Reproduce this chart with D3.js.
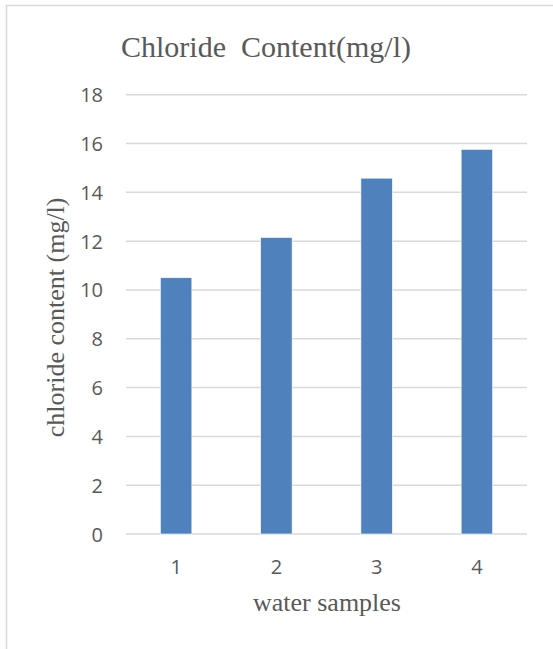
<!DOCTYPE html>
<html>
<head>
<meta charset="utf-8">
<script src="https://cdn.jsdelivr.net/npm/d3@7/dist/d3.min.js"></script>
<style>
  html, body { margin: 0; padding: 0; background: #fff; }
  svg { display: block; }
</style>
</head>
<body>
<script>
// Chart data
const samples = ["1", "2", "3", "4"];
const chloride = [10.5, 12.15, 14.58, 15.76];
const yTicks = [0, 2, 4, 6, 8, 10, 12, 14, 16, 18];
const titleText = "Chloride\u00a0 Content(mg/l)";
const xTitle = "water samples";
const yTitle = "chloride content (mg/l)";

const W = 553, H = 649;
const svg = d3.select("body").append("svg").attr("width", W).attr("height", H);

// Outer chart frame (extends past the right and bottom edges)
svg.append("rect")
  .attr("x", 6.5).attr("y", 5.5)
  .attr("width", 560).attr("height", 660)
  .attr("fill", "#fff").attr("stroke", "#d9d9d9").attr("stroke-width", 1.5);

const plot = { left: 126, right: 527, top: 94.7, bottom: 534 };

const x = d3.scaleBand().domain(samples)
  .range([plot.left, plot.right])
  .paddingInner(0.686).paddingOuter(0.343);
const y = d3.scaleLinear().domain([0, 18]).range([plot.bottom, plot.top]);

// Horizontal gridlines
svg.append("g").selectAll("line").data(yTicks).join("line")
  .attr("x1", plot.left).attr("x2", plot.right)
  .attr("y1", d => y(d)).attr("y2", d => y(d))
  .attr("stroke", "#d9d9d9").attr("stroke-width", 1.5);

// Y axis tick labels
const yAxis = d3.axisLeft(y).tickValues(yTicks).tickSize(0).tickPadding(0);
const gy = svg.append("g").attr("transform", `translate(${plot.left - 23},0)`).call(yAxis);
gy.select(".domain").remove();
gy.selectAll("text")
  .attr("font-family", "'Open Sans', sans-serif").attr("font-size", 20)
  .attr("fill", "#595959").attr("dy", "0.35em");

// Bars
svg.append("g").selectAll("rect").data(chloride).join("rect")
  .attr("x", (d, i) => x(samples[i]))
  .attr("width", x.bandwidth())
  .attr("y", d => y(d))
  .attr("height", d => y(0) - y(d))
  .attr("fill", "#4f81bd")
  .attr("stroke", "#fff").attr("stroke-width", 0.6);

// X axis tick labels
const xAxis = d3.axisBottom(x).tickSize(0).tickPadding(0);
const gx = svg.append("g").attr("transform", `translate(0,${plot.bottom + 33})`).call(xAxis);
gx.select(".domain").remove();
gx.selectAll("text")
  .attr("font-family", "'Open Sans', sans-serif").attr("font-size", 20)
  .attr("fill", "#595959").attr("dy", "0.35em");

// Title
svg.append("text")
  .attr("x", 266).attr("y", 57)
  .attr("text-anchor", "middle")
  .attr("font-family", "'Liberation Serif', 'Times New Roman', serif")
  .attr("font-size", 30).attr("fill", "#595959")
  .text(titleText);

// Axis titles
svg.append("text")
  .attr("x", 327).attr("y", 611)
  .attr("text-anchor", "middle")
  .attr("font-family", "'Liberation Serif', 'Times New Roman', serif")
  .attr("font-size", 26).attr("fill", "#595959")
  .text(xTitle);

svg.append("text")
  .attr("transform", `translate(64,${(plot.top + plot.bottom) / 2 + 3}) rotate(-90)`)
  .attr("text-anchor", "middle")
  .attr("font-family", "'Liberation Serif', 'Times New Roman', serif")
  .attr("font-size", 26).attr("fill", "#595959")
  .text(yTitle);
</script>
</body>
</html>
